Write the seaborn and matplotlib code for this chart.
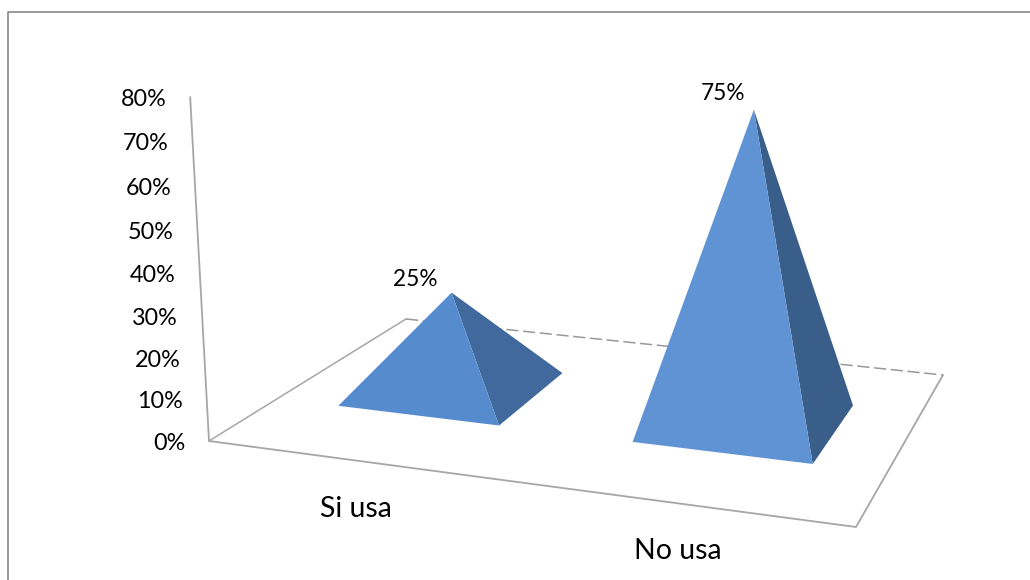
import numpy as np
import pandas as pd
import matplotlib
matplotlib.use("Agg")
import matplotlib.pyplot as plt
import seaborn as sns

# Chart values
categories = ["Si usa", "No usa"]
shares = [0.25, 0.75]
share_labels = ["25%", "75%"]
axis_ticks = [0.0, 0.1, 0.2, 0.3, 0.4, 0.5, 0.6, 0.7, 0.8]
axis_tick_labels = ["0%", "10%", "20%", "30%", "40%", "50%", "60%", "70%", "80%"]

# Scene geometry: floor corners on the canvas, pyramid slots on the floor
floor_corners = np.array([[209, 441], [856, 527], [943, 375], [406, 319]], float)
slot_centres = [0.25, 0.75]
slot_depth = 0.505
half_u, half_v = 0.14, 0.20
vertical_vanish = (575.0, 7122.0)
height_gain = -0.0612

front_colours = ["#568CCD", "#5F93D4"]
side_colours = ["#41699E", "#3A5E8A"]
line_grey = "#A6A6A6"


def floor_matrix(corners):
    """Homography from the unit square (u, v) to the canvas."""
    src = [(0, 0), (1, 0), (1, 1), (0, 1)]
    rows, rhs = [], []
    for (u, v), (x, y) in zip(src, corners):
        rows.append([u, v, 1, 0, 0, 0, -u * x, -v * x])
        rows.append([0, 0, 0, u, v, 1, -u * y, -v * y])
        rhs += [x, y]
    return np.append(np.linalg.solve(np.array(rows), np.array(rhs)), 1).reshape(3, 3)


H = floor_matrix(floor_corners)
W = height_gain * np.array([vertical_vanish[0], vertical_vanish[1], 1.0])


def project(u, v, z=0.0):
    q = H @ np.array([u, v, 1.0]) + z * W
    return q[:2] / q[2]


sns.set_theme(style="white", rc={"font.family": ["Lato", "DejaVu Sans"]})
plt.rcParams["font.family"] = ["Lato", "DejaVu Sans"]

fig = plt.figure(figsize=(10.3, 5.8), dpi=100, facecolor="white")
ax = fig.add_axes([0, 0, 1, 1])
ax.set_xlim(0, 1030)
ax.set_ylim(580, 0)
ax.axis("off")


def trace(points, **kw):
    frame = pd.DataFrame(points, columns=["x", "y"])
    sns.lineplot(data=frame, x="x", y="y", sort=False, estimator=None, ax=ax,
                 legend=False, **kw)


# Chart area border (open at the right and bottom)
trace([(8, 580), (8, 11.5), (1030, 11.5)], color="#868686", linewidth=1.2)

# Floor and vertical axis
trace([project(0, 0), project(1, 0), project(1, 1)], color=line_grey, linewidth=1.3)
trace([project(0, 1), project(0, 0)], color=line_grey, linewidth=1.1)
trace([project(0, 1), project(1, 1)], color="#999999", linewidth=1.1,
      linestyle=(0, (8, 3)))
trace([project(0, 0, 0), project(0, 0, axis_ticks[-1])], color=line_grey, linewidth=1.3)

# Pyramids: front and right faces only, the others are hidden
for i, (c, share) in enumerate(zip(slot_centres, shares)):
    fl = project(c - half_u, slot_depth - half_v)
    fr = project(c + half_u, slot_depth - half_v)
    br = project(c + half_u, slot_depth + half_v)
    apex = project(c, slot_depth, share)
    ax.fill(*zip(fr, br, apex), color=side_colours[i], linewidth=0, zorder=3)
    ax.fill(*zip(fl, fr, apex), color=front_colours[i], linewidth=0, zorder=4)
    offset = [(-36, -13), (-31, -16)][i]
    ax.text(apex[0] + offset[0], apex[1] + offset[1], share_labels[i], fontsize=16.3,
            color="black", ha="center", va="center", zorder=5)

# Axis tick labels sit just left of the vertical axis
for tick, label in zip(axis_ticks, axis_tick_labels):
    x, y = project(0, 0, tick)
    ax.text(x - 24, y + 2, label, fontsize=16.8, color="black", ha="right", va="center")

# Category labels below the floor
ax.text(355.5, 509, categories[0], fontsize=20.5, color="black", ha="center", va="center")
ax.text(678, 551, categories[1], fontsize=20.5, color="black", ha="center", va="center")

fig.savefig("out.png", dpi=100, facecolor="white")
